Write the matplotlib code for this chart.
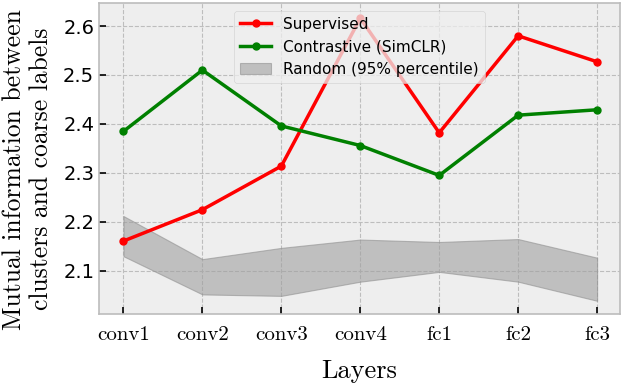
import matplotlib
matplotlib.use("Agg")
import matplotlib.pyplot as plt

plt.style.use("bmh")

layers = ["conv1", "conv2", "conv3", "conv4", "fc1", "fc2", "fc3"]
supervised = [2.161, 2.225, 2.314, 2.616, 2.382, 2.580, 2.527]
contrastive = [2.385, 2.510, 2.396, 2.356, 2.295, 2.418, 2.429]
random_upper = [2.212, 2.124, 2.147, 2.164, 2.159, 2.165, 2.127]
random_lower = [2.130, 2.052, 2.049, 2.078, 2.098, 2.078, 2.039]

fig = plt.figure(figsize=(6.24, 3.85), dpi=100)
ax = fig.add_axes([99/624, 1 - 314/385, (620-99)/624, (314-3)/385])

x = list(range(len(layers)))
ax.plot(x, supervised, color="red", marker="o", markersize=5, linewidth=2.5, label="Supervised", zorder=3)
ax.plot(x, contrastive, color="green", marker="o", markersize=5, linewidth=2.5, label="Contrastive (SimCLR)", zorder=3)
ax.fill_between(x, random_lower, random_upper, color="#a0a0a0", alpha=0.6,
                edgecolor="#909090", linewidth=0.8, label="Random (95% percentile)", zorder=2)

ax.set_xlim(-0.31, 6.29)
ax.set_ylim(2.012, 2.647)
ax.set_xticks(x)
ax.set_xticklabels(layers, fontfamily="cmr10", fontsize=15)
ax.set_yticks([2.1, 2.2, 2.3, 2.4, 2.5, 2.6])
ax.tick_params(axis="y", labelsize=14)
ax.tick_params(axis="x", pad=9)
ax.tick_params(direction="in", length=5, width=1.2, color="black")
ax.grid(True, color="#bdbdbd", linestyle="--", linewidth=0.8)
for sp in ax.spines.values():
    sp.set_color("#bcbcbc")
    sp.set_linewidth(1.2)

ax.set_xlabel("Layers", fontfamily="cmr10", fontsize=19, labelpad=11)
ax.set_ylabel("Mutual information between\nclusters and coarse labels", fontfamily="cmr10", fontsize=18.5)
ax.yaxis.set_label_coords(-0.088, 0.466)

leg = ax.legend(loc="upper center", fontsize=11, framealpha=0.75, fancybox=True)
leg.set_zorder(5)

fig.savefig("out.png", dpi=100)
